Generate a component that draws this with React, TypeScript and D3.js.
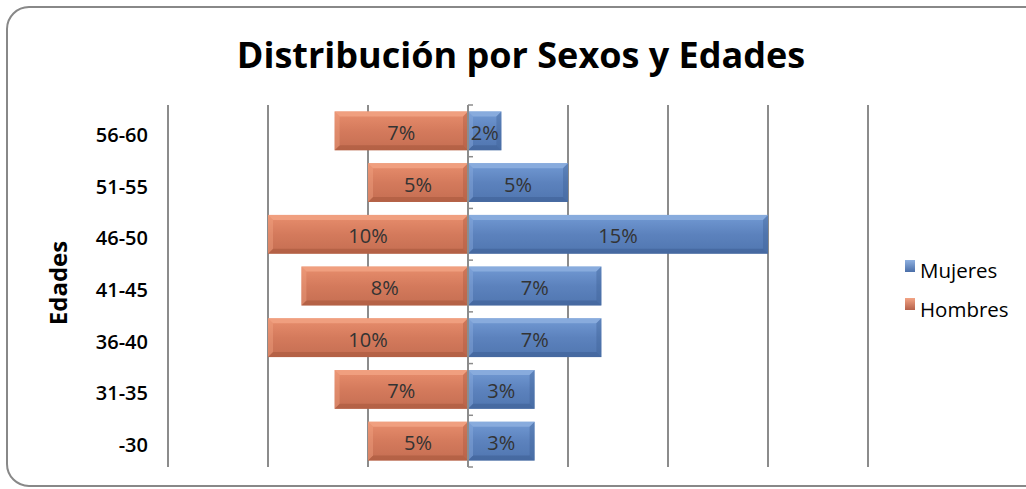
import React from "react";
import * as d3 from "d3";

const categories = ["56-60", "51-55", "46-50", "41-45", "36-40", "31-35", "-30"];
const hombres = [6.67, 5, 10, 8.33, 10, 6.67, 5];
const mujeres = [1.67, 5, 15, 6.67, 6.67, 3.33, 3.33];
const xTicks = [-15, -10, -5, 0, 5, 10, 15, 20];
const seriesNames = ["Mujeres", "Hombres"];

const W = 1026;
const H = 489;
const font = "'Open Sans', 'Noto Sans', sans-serif";

export default function App() {
  const x = d3.scaleLinear().domain([-15, 20]).range([168, 868]);
  const y = d3.scaleBand().domain(categories).range([105, 467]).paddingInner(0.25).paddingOuter(0.125);
  const step = y.step();
  const bh = y.bandwidth();

  const bar = (cat: string, v: number, side: "h" | "m", i: number) => {
    const x0 = side === "h" ? x(-v) : x(0);
    const x1 = side === "h" ? x(0) : x(v);
    const yy = y(cat)!;
    const w = x1 - x0;
    const fill = side === "h" ? "url(#gH)" : "url(#gM)";
    const light = side === "h" ? "#f3a485" : "#8fb0e0";
    const dark = side === "h" ? "#a9583e" : "#3f6196";
    const lbl = Math.round(v) + "%";
    return (
      <g key={side + i}>
        <rect x={x0} y={yy} width={w} height={bh} fill={fill} />
        <path d={`M${x0},${yy} L${x1},${yy} L${x1 - 5},${yy + 5} L${x0 + 5},${yy + 5} Z`} fill={light} opacity={0.8} />
        <path d={`M${x0},${yy + bh} L${x1},${yy + bh} L${x1 - 5},${yy + bh - 5} L${x0 + 5},${yy + bh - 5} Z`} fill={dark} opacity={0.6} />
        <path d={`M${x0},${yy} L${x0 + 5},${yy + 5} L${x0 + 5},${yy + bh - 5} L${x0},${yy + bh} Z`} fill={light} opacity={0.4} />
        <path d={`M${x1},${yy} L${x1 - 5},${yy + 5} L${x1 - 5},${yy + bh - 5} L${x1},${yy + bh} Z`} fill={dark} opacity={0.4} />
        <text x={(x0 + x1) / 2} y={yy + bh / 2 + 9} textAnchor="middle" fontFamily={font} fontSize={20} fill="#333">{lbl}</text>
      </g>
    );
  };

  return (
    <svg width={W} height={H} style={{ position: "absolute", left: 0, top: 0 }}>
      <defs>
        <linearGradient id="gH" x1="0" y1="0" x2="0" y2="1">
          <stop offset="0" stopColor="#e88e6d" />
          <stop offset="0.5" stopColor="#d47a5c" />
          <stop offset="1" stopColor="#c56e52" />
        </linearGradient>
        <linearGradient id="gM" x1="0" y1="0" x2="0" y2="1">
          <stop offset="0" stopColor="#729ad4" />
          <stop offset="0.5" stopColor="#5c82bd" />
          <stop offset="1" stopColor="#5076b0" />
        </linearGradient>
        <linearGradient id="lM" x1="0" y1="0" x2="0" y2="1">
          <stop offset="0" stopColor="#8fb0e0" />
          <stop offset="1" stopColor="#4a6ea8" />
        </linearGradient>
        <linearGradient id="lH" x1="0" y1="0" x2="0" y2="1">
          <stop offset="0" stopColor="#f3a485" />
          <stop offset="1" stopColor="#b5614a" />
        </linearGradient>
      </defs>
      <rect x={7} y={7} width={1040} height={479} rx={22} ry={22} fill="#fff" stroke="#888" strokeWidth={2} />
      <text x={521} y={68} textAnchor="middle" fontFamily={font} fontWeight={700} fontSize={36} fill="#000">
        Distribución por Sexos y Edades
      </text>
      {xTicks.filter((t) => t !== 0).map((t) => (
        <line key={t} x1={x(t)} x2={x(t)} y1={105} y2={467} stroke="#8c8c8c" strokeWidth={2} />
      ))}
      {categories.map((c, i) => bar(c, hombres[i], "h", i))}
      {categories.map((c, i) => bar(c, mujeres[i], "m", i))}
      <line x1={x(0)} x2={x(0)} y1={105} y2={467} stroke="#8c8c8c" strokeWidth={2} />
      {d3.range(categories.length + 1).map((k) => (
        <line key={k} x1={x(0)} x2={x(0) + 5} y1={105 + k * step} y2={105 + k * step} stroke="#8c8c8c" strokeWidth={1.5} />
      ))}
      {categories.map((c) => (
        <text key={c} x={148} y={y(c)! + bh / 2 + 11} textAnchor="end" fontFamily={font} fontWeight={600} fontSize={20} fill="#000">
          {c}
        </text>
      ))}
      <text transform={`translate(67,283) rotate(-90)`} textAnchor="middle" fontFamily={font} fontWeight={700} fontSize={24} fill="#000">
        Edades
      </text>
      {seriesNames.map((s, i) => (
        <g key={s}>
          <rect x={905} y={260 + i * 38} width={10} height={12} fill={i === 0 ? "url(#lM)" : "url(#lH)"} />
          <text x={920} y={278 + i * 39} fontFamily={font} fontSize={20.5} fill="#000">{s}</text>
        </g>
      ))}
    </svg>
  );
}
